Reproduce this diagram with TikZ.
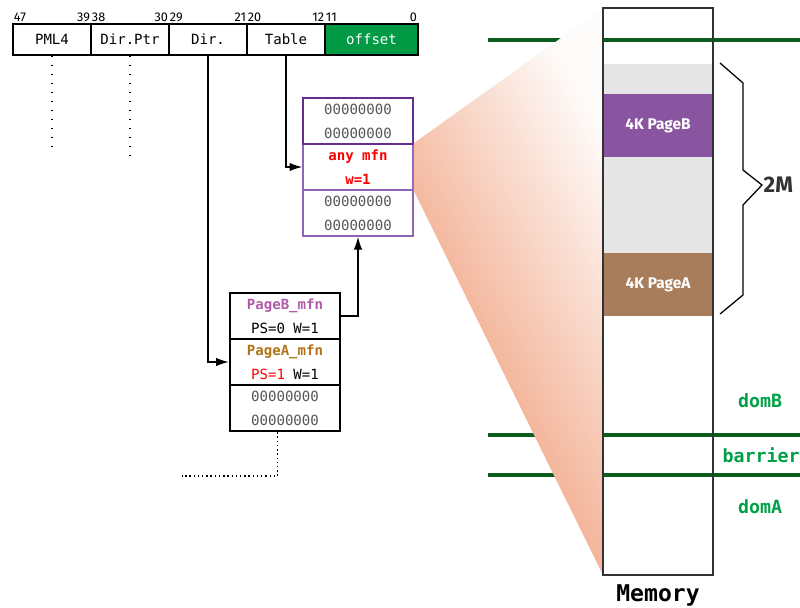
\documentclass[tikz,border=0pt]{standalone}
\usepackage{fontspec}
\setmainfont{Fira Sans}
\setsansfont{Fira Sans}
\setmonofont{DejaVu Sans Mono}
\usetikzlibrary{arrows.meta,positioning}

\definecolor{offsetgreen}{RGB}{0,154,68}
\definecolor{domline}{RGB}{12,92,30}
\definecolor{domtext}{RGB}{0,160,70}
\definecolor{ptdark}{RGB}{102,45,145}
\definecolor{ptlight}{RGB}{145,100,180}
\definecolor{pagebtext}{RGB}{176,90,168}
\definecolor{pageatext}{RGB}{176,115,22}
\definecolor{pagebfill}{RGB}{138,85,160}
\definecolor{pageafill}{RGB}{168,125,91}
\definecolor{poolgray}{RGB}{230,230,230}
\definecolor{zerogray}{RGB}{85,85,85}
\definecolor{memedge}{RGB}{50,50,50}
\definecolor{funnel}{RGB}{238,144,104}

\tikzset{
  bitcell/.style={draw, line width=1pt, minimum height=0.775cm, minimum width=1.95cm,
    inner sep=0pt, font=\fontsize{10}{11}\selectfont\ttfamily},
  bitno/.style={inner sep=1pt, font=\fontsize{9}{10}\selectfont},
  tabcell/.style={draw=ptlight, line width=1.2pt, minimum width=2.75cm, minimum height=1.15cm,
    inner sep=0pt, align=center, font=\fontsize{10}{17}\selectfont\ttfamily},
  pdcell/.style={draw, line width=1.8pt, minimum width=2.75cm, minimum height=1.15cm,
    inner sep=0pt, align=center, font=\fontsize{10}{17}\selectfont\ttfamily},
  memblock/.style={minimum width=2.7cm, inner sep=0pt, text=white,
    font=\fontsize{11}{13}\selectfont\sffamily\bfseries},
  link/.style={line width=0.9pt, -{Latex[length=9pt,width=6pt]}},
  guide/.style={line width=0.9pt, dash pattern=on 1.2pt off 5.2pt},
  domsep/.style={domline, line width=2.4pt},
  domlbl/.style={text=domtext, font=\fontsize{13}{15}\selectfont\ttfamily\bfseries},
}

\begin{document}
\begin{tikzpicture}
\useasboundingbox (0,0) rectangle (20,-15.175);

% linear address fields
\node[bitcell] (pml) at (1.3,-0.9875) {PML4};
\node[bitcell] (dptr) at (3.25,-0.9875) {Dir.Ptr};
\node[bitcell] (dir) at (5.2,-0.9875) {Dir.};
\node[bitcell] (tbl) at (7.15,-0.9875) {Table};
\node[bitcell, minimum width=2.325cm, fill=offsetgreen, text=white] (ofs) at (9.2875,-0.9875) {offset};

\node[bitno, anchor=south west] (b47) at (pml.north west) {47};
\node[bitno, anchor=south east] (b39) at (pml.north east) {39};
\node[bitno, anchor=south west] (b38) at (dptr.north west) {38};
\node[bitno, anchor=south east] (b30) at (dptr.north east) {30};
\node[bitno, anchor=south west] (b29) at (dir.north west) {29};
\node[bitno, anchor=south east] (b21) at (dir.north east) {21};
\node[bitno, anchor=south west] (b20) at (tbl.north west) {20};
\node[bitno, anchor=south east] (b12) at (tbl.north east) {12};
\node[bitno, anchor=south west] (b11) at (ofs.north west) {11};
\node[bitno, anchor=south east] (b0) at (ofs.north east) {0};

\coordinate (pmlend) at (1.3,-3.8);
\coordinate (dptrend) at (3.25,-3.875);
\draw[guide] (pml.south) -- (pmlend);
\draw[guide] (dptr.south) -- (dptrend);

% page table
\node[tabcell, text=red, font=\fontsize{10}{17}\selectfont\ttfamily\bfseries] (tabmfn) at (8.95,-4.175) {any mfn\\w=1};
\node[tabcell, text=zerogray] (tablo) at (8.95,-5.325) {00000000\\00000000};
\node[tabcell, draw=ptdark, line width=1.5pt, text=zerogray] (tabhi) at (8.95,-3.025) {00000000\\00000000};

% page directory
\node[pdcell] (pdb) at (7.125,-7.9) {\textcolor{pagebtext}{\bfseries PageB\_mfn}\\PS=0 W=1};
\node[pdcell] (pda) at (7.125,-9.05) {\textcolor{pageatext}{\bfseries PageA\_mfn}\\\textcolor{red}{PS=1} W=1};
\node[pdcell, text=zerogray] (pdz) at (7.125,-10.2) {00000000\\00000000};

\draw[link] (dir.south) |- (pda.west);
\draw[link] (tbl.south) |- (tabmfn.west);
\draw[link] (pdb.east) -| (tablo.south);

\coordinate (tail) at (4.55,-11.9);
\draw[line width=0.9pt, dash pattern=on 1pt off 2pt] ([xshift=-0.18cm]pdz.south) |- (tail);

% domain boundaries
\draw[domsep] (12.2,-1) -- (20,-1);
\draw[domsep] (12.2,-10.875) -- (20,-10.875);
\draw[domsep] (12.2,-11.875) -- (20,-11.875);

\coordinate (memtop) at (15.075,-0.2);
\coordinate (membot) at (15.075,-14.375);
\shade[top color=funnel!3, middle color=funnel!72, bottom color=funnel, shading angle=-62]
  (tabmfn.north east) -- (memtop) -- (membot) -- (tabmfn.south east) -- cycle;

% memory
\node[draw=memedge, line width=1pt, minimum width=2.75cm, minimum height=14.175cm, inner sep=0pt] (mem) at (16.45,-7.2875) {};
\node[memblock, fill=poolgray, minimum height=6.3cm] (pool) at (16.45,-4.75) {};
\node[memblock, fill=pagebfill, minimum height=1.575cm] (pageb) at (16.45,-3.1375) {4K PageB};
\node[memblock, fill=pageafill, minimum height=1.575cm] (pagea) at (16.45,-7.1125) {4K PageA};
\node[below=3pt of mem, font=\fontsize{16.4}{18}\selectfont\ttfamily\bfseries] (memlbl) {Memory};

\coordinate (bracetip) at (19.05,-4.625);
\draw[line width=0.9pt] (18,-1.575) -- (18.575,-2.075) -- (18.575,-4.25) -- (bracetip)
  -- (18.575,-5.125) -- (18.575,-7.375) -- (18,-7.85);
\node[right=1pt of bracetip, inner sep=0pt, text=black!80, font=\fontsize{16}{18}\selectfont\sffamily\bfseries] (twom) {2M};

\node[domlbl] (domb) at (19,-10.025) {domB};
\node[domlbl] (barrier) at (19.03,-11.375) {barrier};
\node[domlbl] (doma) at (19,-12.675) {domA};
\end{tikzpicture}
\end{document}
